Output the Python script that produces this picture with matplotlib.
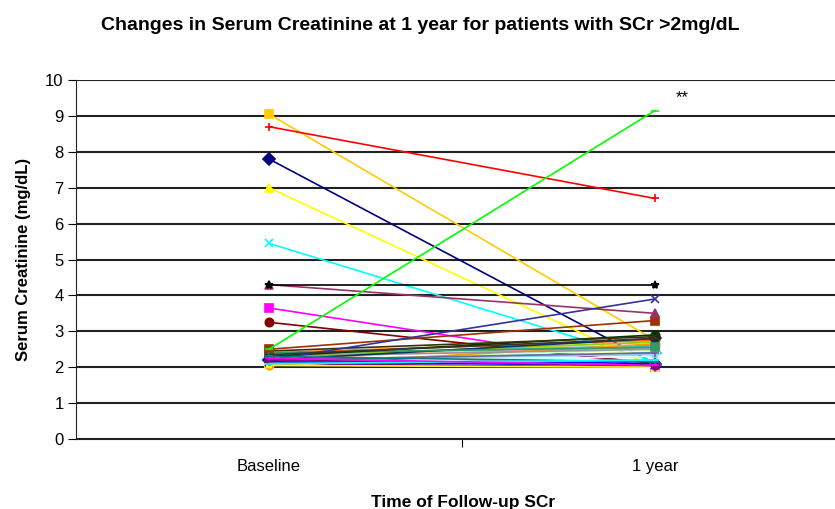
import matplotlib
matplotlib.use("Agg")
import matplotlib.pyplot as plt

plt.rcParams["font.family"] = ["Liberation Sans", "DejaVu Sans"]

categories = ["Baseline", "1 year"]

# serum creatinine per patient (mg/dL)
baseline = [7.8, 3.65, 7.0, 5.45, 2.10, 3.25, 2.30, 2.25, 2.20, 2.10,
            2.15, 2.05, 2.20, 2.30, 2.10, 2.20, 2.20, 2.35, 2.30, 9.05,
            2.05, 2.40, 2.20, 2.30, 2.20, 2.40, 2.30, 2.45, 2.50, 4.30,
            2.20, 2.35, 4.30, 8.70, 2.50, 2.15, 2.05, 2.20, 2.30, 2.10,
            2.25]
one_year = [2.10, 2.00, 2.00, 2.15, 2.00, 2.10, 2.60, 2.10, 2.40, 2.30,
            2.50, 2.45, 2.35, 2.55, 2.20, 2.70, 2.05, 2.60, 2.70, 2.75,
            2.65, 2.75, 2.40, 2.50, 2.80, 2.55, 2.90, 2.85, 3.30, 3.50,
            3.90, 2.80, 4.30, 6.70, 9.15, 2.05, 2.00, 2.05, 2.15, 2.20,
            2.05]

colors = ["#000080", "#FF00FF", "#FFFF00", "#00FFFF", "#800080", "#800000",
          "#008080", "#0000FF", "#00CCFF", "#CCFFFF", "#CCFFCC", "#FFFF99",
          "#99CCFF", "#FF99CC", "#CC99FF", "#FFCC99", "#3366FF", "#33CCCC",
          "#99CC00", "#FFCC00", "#FF9900", "#FF6600", "#666699", "#969696",
          "#003366", "#339966", "#003300", "#333300", "#993300", "#993366",
          "#333399", "#333333", "#000000", "#FF0000", "#00FF00", "#0000FF",
          "#FFFF00", "#800080", "#008080", "#00FFFF", "#FF00FF"]
markers = ["D", "s", "^", "x", "*", "o", "+", "_"]
marker_override = {19: "s", 20: "o", 26: "o", 28: "s", 29: "^", 30: "x",
                   32: "*", 33: "+", 34: "_", 36: "*", 40: "_"}

fig = plt.figure(figsize=(8.35, 5.09), dpi=100)
ax = fig.add_axes([76 / 835, 70 / 509, 772 / 835, 359 / 509])

for i, (b, a) in enumerate(zip(baseline, one_year)):
    mk = marker_override.get(i, markers[i % len(markers)])
    ax.plot([0, 1], [b, a], color=colors[i], lw=1.2, marker=mk,
            markersize=6, markeredgewidth=1.2, zorder=3)

ax.text(1.07, 9.5, "**", fontsize=12, ha="center", va="center")

ax.set_xlim(-0.5, 1.5)
ax.set_ylim(0, 10)
ax.set_yticks(range(0, 11))
ax.yaxis.grid(True, color="#222222", lw=1.5)
ax.set_axisbelow(True)

ax.set_xticks([0.5])
ax.set_xticklabels([""])
for x, lab in enumerate(categories):
    ax.text(x, -0.55, lab, ha="center", va="top", fontsize=12,
            transform=ax.transData)

ax.tick_params(axis="y", direction="out", length=6, labelsize=12, pad=3)
ax.tick_params(axis="x", direction="out", length=6)
for s in ["top", "right"]:
    ax.spines[s].set_visible(False)
ax.spines["left"].set_color("#222222")
ax.spines["bottom"].set_color("#222222")

ax.set_ylabel("Serum Creatinine (mg/dL)", fontsize=12, fontweight="bold", labelpad=10)
fig.text(463 / 835, 1 - 503 / 509, "Time of Follow-up SCr", ha="center", va="center",
         fontsize=12.5, fontweight="bold")
fig.text(420 / 835, 1 - 25 / 509,
         "Changes in Serum Creatinine at 1 year for patients with SCr >2mg/dL",
         ha="center", va="center", fontsize=14, fontweight="bold")

fig.savefig("out.png", dpi=100)
